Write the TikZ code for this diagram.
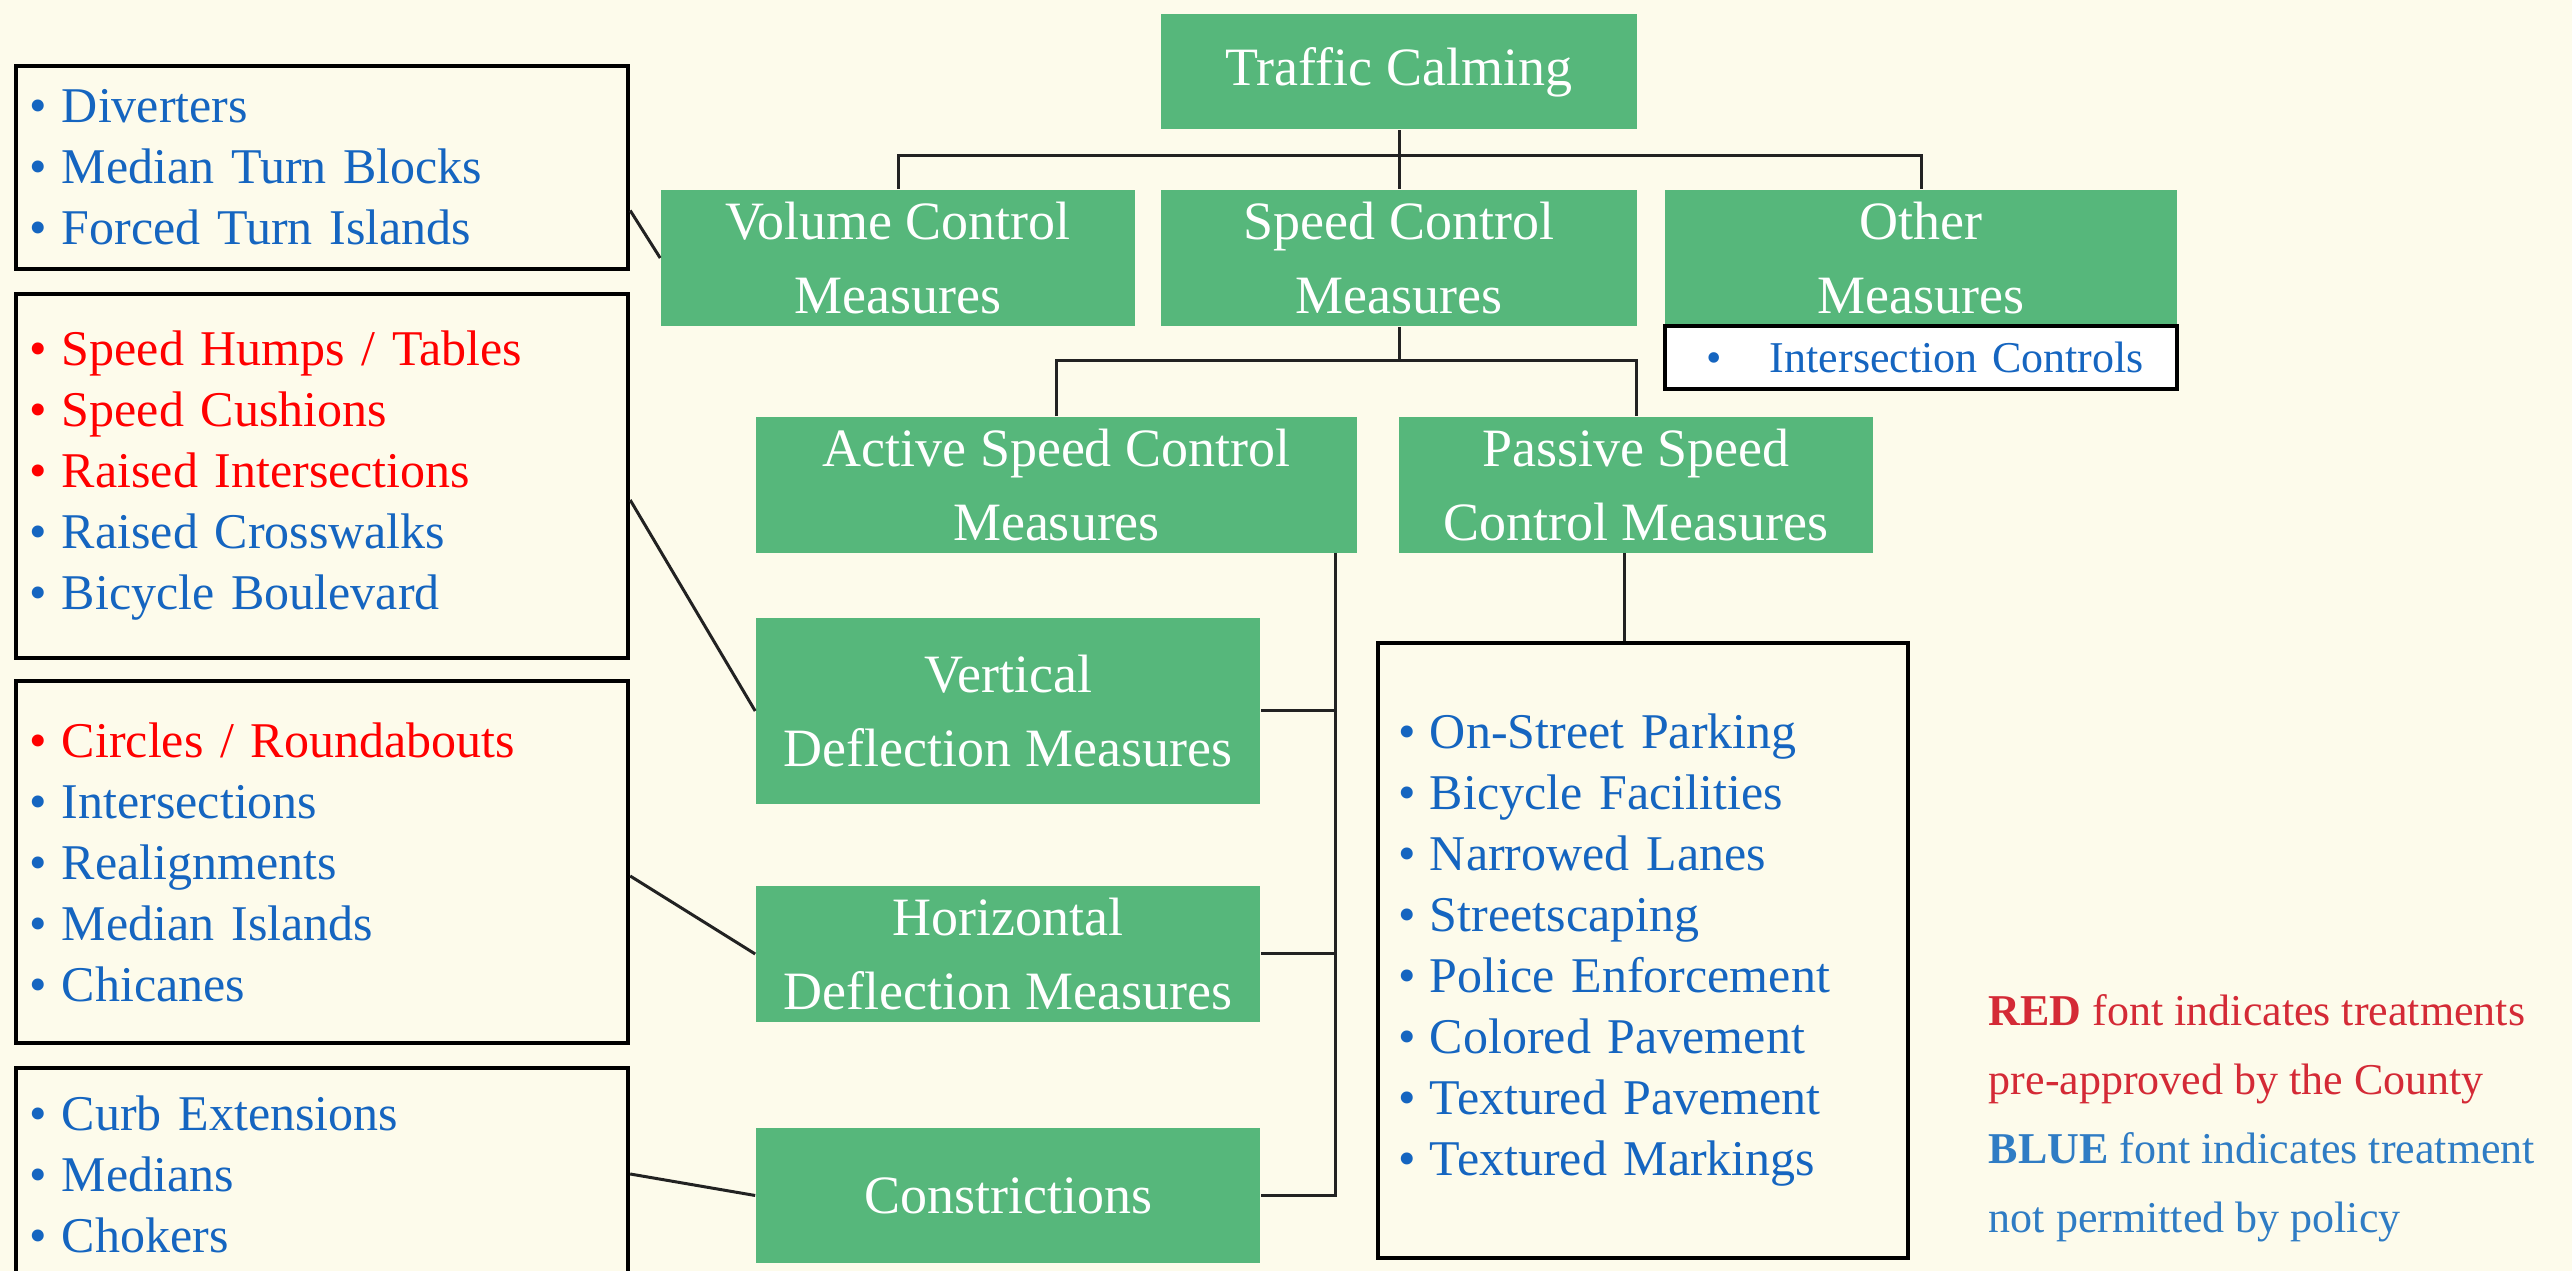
\documentclass[tikz,border=0pt]{standalone}
\usepackage{fontspec}
\setmainfont{Liberation Serif}
\usetikzlibrary{calc}
\definecolor{bg}{HTML}{FDFBEB}
\definecolor{gr}{HTML}{56B77B}
\definecolor{bl}{HTML}{1565C0}
\definecolor{rd}{HTML}{FF0000}
\definecolor{lrd}{HTML}{D42A36}
\definecolor{lbl}{HTML}{2F7CC4}
\definecolor{ln}{HTML}{222222}
\newcommand\bu[1]{{\makebox[8pt][l]{\textbullet}#1}}
\newcommand\rbu[1]{{\color{rd}\makebox[8pt][l]{\textbullet}#1}}
\begin{document}
\begin{tikzpicture}[x=0.25pt,y=-0.25pt,
 gbox/.style={fill=gr, text=white, inner sep=0, align=center, font=\fontsize{13.5}{18.5}\selectfont},
 lbox/.style={draw=black, line width=1.1pt, fill=bg, inner xsep=3.5pt, inner ysep=0, align=left, text width=146pt, minimum width=153pt, font=\fontsize{12.5}{15.25}\selectfont, text=bl},
 conn/.style={draw=ln, line width=0.75pt}]
\fill[bg] (0,0) rectangle (2572,1271);
\useasboundingbox (0,0) rectangle (2572,1271);

% green boxes
\node[gbox, minimum width=119pt, minimum height=28.75pt] (tc) at (1399,72) {Traffic Calming};
\node[gbox, minimum width=118.5pt, minimum height=34pt] (vol) at (898,258) {Volume Control\\Measures};
\node[gbox, minimum width=119pt, minimum height=34pt] (spd) at (1399,258) {Speed Control\\Measures};
\node[gbox, minimum width=128pt, minimum height=34pt] (oth) at (1921,258) {Other\\Measures};
\node[draw=black, line width=1pt, fill=white, minimum width=128pt, minimum height=15.75pt, inner xsep=4pt, inner ysep=0, text width=120pt, align=left, text=bl, font=\fontsize{11}{13}\selectfont] (othl) at (1921,357.5) {\hspace*{6.25pt}\makebox[16pt][l]{\textbullet}Intersection Controls};
\node[gbox, minimum width=150.25pt, minimum height=34pt] (act) at (1056.5,485) {Active Speed Control\\Measures};
\node[gbox, minimum width=118.5pt, minimum height=34pt] (pas) at (1636,485) {Passive Speed\\Control Measures};
\node[gbox, minimum width=126pt, minimum height=46.5pt] (ver) at (1008,711) {Vertical\\Deflection Measures};
\node[gbox, minimum width=126pt, minimum height=34pt] (hor) at (1008,954) {Horizontal\\Deflection Measures};
\node[gbox, minimum width=126pt, minimum height=33.75pt] (con) at (1008,1195.5) {Constrictions};

% list boxes
\node[lbox, minimum height=50.75pt] (l1) at (322,167.5) {\bu{Diverters}\\\bu{Median Turn Blocks}\\\bu{Forced Turn Islands}};
\node[lbox, minimum height=91pt] (l2) at (322,476) {\rbu{Speed Humps / Tables}\\\rbu{Speed Cushions}\\\rbu{Raised Intersections}\\\bu{Raised Crosswalks}\\\bu{Bicycle Boulevard}};
\node[lbox, minimum height=90.5pt] (l3) at (322,862) {\rbu{Circles / Roundabouts}\\\bu{Intersections}\\\bu{Realignments}\\\bu{Median Islands}\\\bu{Chicanes}};
\node[lbox, minimum height=53pt] (l4) at (322,1174) {\bu{Curb Extensions}\\\bu{Medians}\\\bu{Chokers}};
\node[lbox, minimum width=132.5pt, text width=122.5pt, inner xsep=5pt, minimum height=153.75pt] (lp) at (1643,950.5) {\bu{On-Street Parking}\\\bu{Bicycle Facilities}\\\bu{Narrowed Lanes}\\\bu{Streetscaping}\\\bu{Police Enforcement}\\\bu{Colored Pavement}\\\bu{Textured Pavement}\\\bu{Textured Markings}};

% legend
\node[anchor=west, inner sep=0, align=left, font=\fontsize{11}{17.25}\selectfont] (leg) at (1988,1118) {{\color{lrd}\textbf{RED} font indicates treatments}\\{\color{lrd}pre-approved by the County}\\{\color{lbl}\textbf{BLUE} font indicates treatment}\\{\color{lbl}not permitted by policy}};

% tree connectors
\coordinate (j1) at (1399,156);
\draw[conn] (tc.south) -- (spd.north);
\draw[conn] (vol.north) |- (j1) -| (oth.north);
\coordinate (j2) at (1399,361);
\draw[conn] (spd.south) -- (j2);
\draw[conn] (act.north) |- (j2) -| (pas.north);
\coordinate (j3) at (1335,553);
\coordinate (j4) at (1335,1195.5);
\draw[conn] (j3) -- (j4) -- (con.east);
\draw[conn] (ver.east) -- (ver.east -| j3);
\draw[conn] (hor.east) -- (hor.east -| j3);
\coordinate (j5) at (1624,553);
\draw[conn] (j5) -- (j5 |- lp.north);

% list connectors
\draw[conn] ($(l1.east)+(0,43)$) -- (vol.west);
\draw[conn] ($(l2.east)+(0,24)$) -- (ver.west);
\draw[conn] ($(l3.east)+(0,14)$) -- (hor.west);
\draw[conn] (l4.east) -- (con.west);
\end{tikzpicture}
\end{document}
